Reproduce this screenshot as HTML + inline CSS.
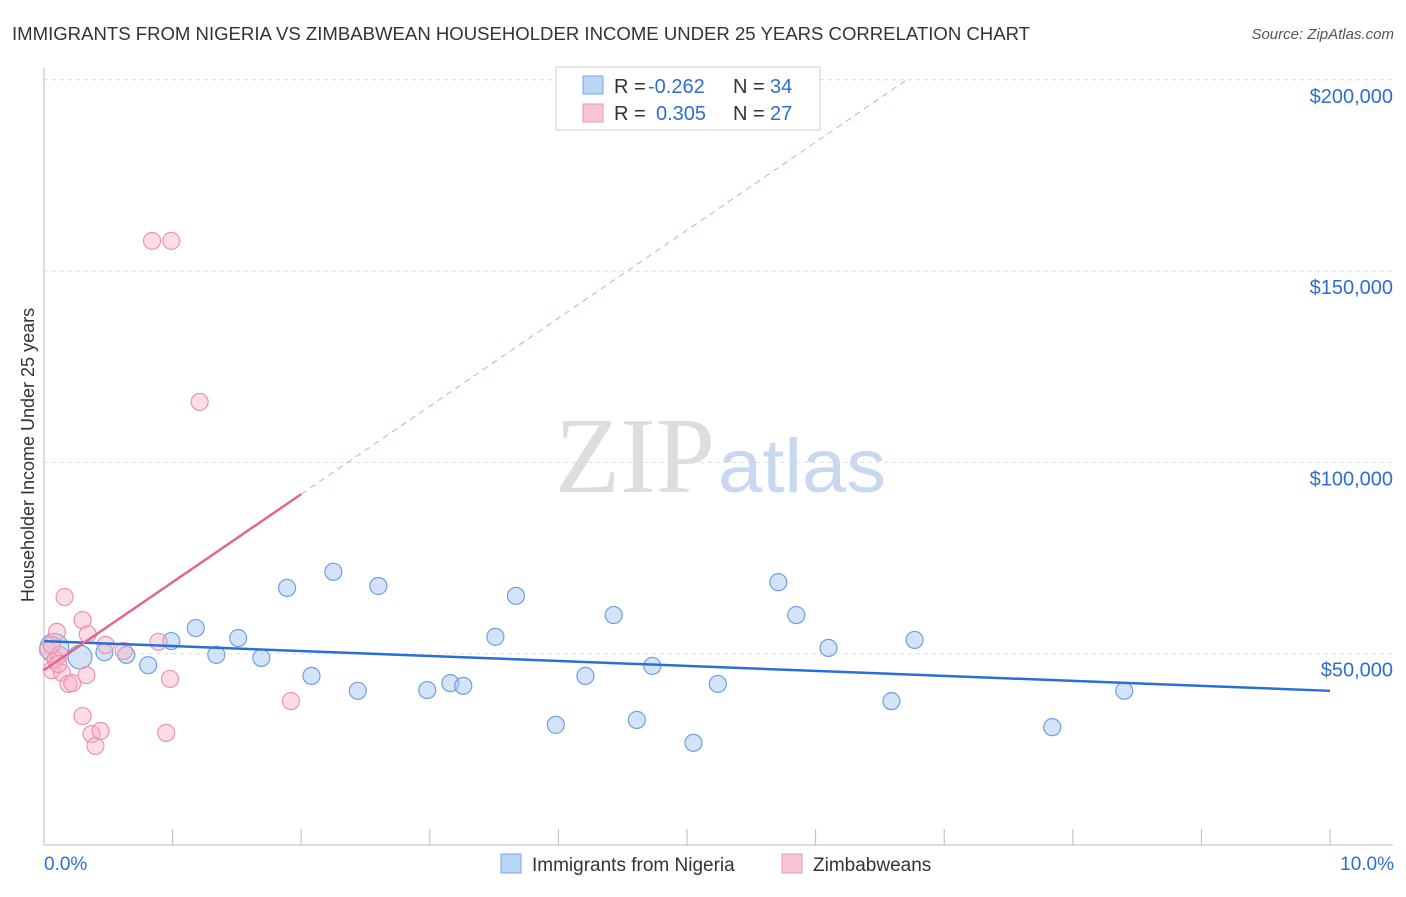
<!DOCTYPE html>
<html><head><meta charset="utf-8"><style>
body{margin:0;background:#fff;font-family:"Liberation Sans",sans-serif}
</style></head><body>
<svg id="chart" width="1406" height="892" xmlns="http://www.w3.org/2000/svg" font-family="Liberation Sans, sans-serif">
<text x="12" y="40" font-size="18" fill="#333" textLength="1018" lengthAdjust="spacingAndGlyphs">IMMIGRANTS FROM NIGERIA VS ZIMBABWEAN HOUSEHOLDER INCOME UNDER 25 YEARS CORRELATION CHART</text>
<text x="1394" y="39" font-size="15" fill="#555" font-style="italic" text-anchor="end">Source: ZipAtlas.com</text>
<text x="555" y="492" font-size="108" fill="#ddd" textLength="160" lengthAdjust="spacingAndGlyphs" font-family="Liberation Serif, serif">ZIP</text>
<text x="718" y="492" font-size="76" fill="#c8d8f0" textLength="168" lengthAdjust="spacingAndGlyphs">atlas</text>
<text transform="translate(34,455) rotate(-90)" font-size="18" fill="#333" text-anchor="middle">Householder Income Under 25 years</text>
<g id="grid"></g><g id="marks"></g>
<g>
<rect x="556" y="67" width="264" height="63" fill="#fff" stroke="#ccc"/>
<rect x="583" y="76" width="20" height="18" fill="#bcd4f5" stroke="#7aa6e6"/>
<rect x="583" y="104" width="20" height="18" fill="#f8c5d5" stroke="#ee93b1"/>
<text x="614" y="93" font-size="20" fill="#333">R =</text>
<text x="648" y="93" font-size="20" fill="#2c6fd1">-0.262</text>
<text x="733" y="93" font-size="20" fill="#333">N =</text>
<text x="770" y="93" font-size="20" fill="#2c6fd1">34</text>
<text x="614" y="120" font-size="20" fill="#333">R =</text>
<text x="656" y="120" font-size="20" fill="#2c6fd1">0.305</text>
<text x="733" y="120" font-size="20" fill="#333">N =</text>
<text x="770" y="120" font-size="20" fill="#2c6fd1">27</text>
</g>
<g>
<rect x="501" y="854" width="20" height="19" fill="#bcd4f5" stroke="#7aa6e6"/>
<text x="532" y="871" font-size="19" fill="#333">Immigrants from Nigeria</text>
<rect x="782" y="854" width="20" height="19" fill="#f8c5d5" stroke="#ee93b1"/>
<text x="813" y="871" font-size="19" fill="#333">Zimbabweans</text>
</g>
<text x="44" y="870" font-size="19" fill="#2c6fd1">0.0%</text>
<text x="1394" y="870" font-size="19" fill="#2c6fd1" text-anchor="end">10.0%</text>
</svg>
<script>
const yTicks=[50,100,150,200];
const yTickLabels=["$50,000","$100,000","$150,000","$200,000"];
const blueX=[0.08,0.28,0.47,0.64,0.81,0.99,1.18,1.34,1.51,1.69,1.89,2.08,2.25,2.44,2.60,2.98,3.16,3.26,3.51,3.67,3.98,4.21,4.43,4.61,4.73,5.05,5.24,5.71,5.85,6.10,6.59,6.77,7.84,8.40];
const blueY=[51.5,49.1,50.4,49.7,47.0,53.3,56.7,49.7,54.1,48.9,67.2,44.2,71.4,40.3,67.7,40.5,42.3,41.6,54.4,65.1,31.4,44.2,60.1,32.7,46.8,26.7,42.1,68.7,60.1,51.5,37.6,53.6,30.8,40.3];
const blueSize=[1.7,1.4,1,1,1,1,1,1,1,1,1,1,1,1,1,1,1,1,1,1,1,1,1,1,1,1,1,1,1,1,1,1,1,1];
const pinkX=[0.03,0.06,0.09,0.10,0.12,0.16,0.14,0.19,0.22,0.30,0.33,0.34,0.30,0.37,0.40,0.44,0.48,0.62,0.89,0.98,0.95,0.84,0.99,1.21,1.92,0.06,0.11];
const pinkY=[51.0,45.7,48.4,55.7,49.7,64.8,45.0,42.1,42.3,58.8,44.4,55.1,33.7,29.0,25.9,29.8,52.3,50.7,53.1,43.4,29.3,157.9,157.9,115.8,37.6,52.3,47.3];
const blueTrend=[53.3,40.3];
const pinkTrend=[45.7,23.0];
const X=v=>44+v*128.6, Y=v=>845-v*3.826;
const NS="http://www.w3.org/2000/svg";
const grid=document.getElementById('grid'),marks=document.getElementById('marks');
function mk(p,tag,a){const e=document.createElementNS(NS,tag);for(const k in a)e.setAttribute(k,a[k]);p.appendChild(e);return e;}
let ax=mk(grid,'line',{x1:44,y1:68,x2:44,y2:845,stroke:'#bbb'});

let bx=mk(grid,'line',{x1:44,y1:845,x2:1393,y2:845,stroke:'#bbb'});

for(let i=1;i<=10;i++){const t=mk(grid,'line',{x1:X(i),y1:829,x2:X(i),y2:845,stroke:'#bbb'});
}
yTicks.forEach((v,i)=>{const g=mk(grid,'line',{x1:44,y1:Y(v),x2:1393,y2:Y(v),stroke:'#ddd','stroke-dasharray':'4,4'});

const t=mk(grid,'text',{x:1393,y:Y(v)+23,'font-size':20,fill:'#2c6fd1','text-anchor':'end'});t.textContent=yTickLabels[i];
});
blueX.forEach((x,i)=>{const c=mk(marks,'circle',{cx:X(x),cy:Y(blueY[i]),r:8.5*blueSize[i],fill:'rgba(160,195,240,0.45)',stroke:'#6f9fe0','stroke-width':1.2});
});
pinkX.forEach((x,i)=>{const c=mk(marks,'circle',{cx:X(x),cy:Y(pinkY[i]),r:8.5,fill:'rgba(248,180,200,0.45)',stroke:'#ec93b0','stroke-width':1.2});
});
let bl=mk(marks,'line',{x1:X(0),y1:Y(blueTrend[0]),x2:X(10),y2:Y(blueTrend[1]),stroke:'#2a6fd6','stroke-width':2.5});

const pAt=x=>pinkTrend[0]+pinkTrend[1]*x;const xEnd=(200-pinkTrend[0])/pinkTrend[1]+0.02;
let pd=mk(marks,'line',{x1:X(2),y1:Y(pAt(2)),x2:X(xEnd),y2:Y(pAt(xEnd)),stroke:'#e8a0b8','stroke-width':1,'stroke-dasharray':'6,5'});

let pl=mk(marks,'line',{x1:X(0),y1:Y(pAt(0)),x2:X(2),y2:Y(pAt(2)),stroke:'#e5658f','stroke-width':2.5});

</script>
</body></html>
